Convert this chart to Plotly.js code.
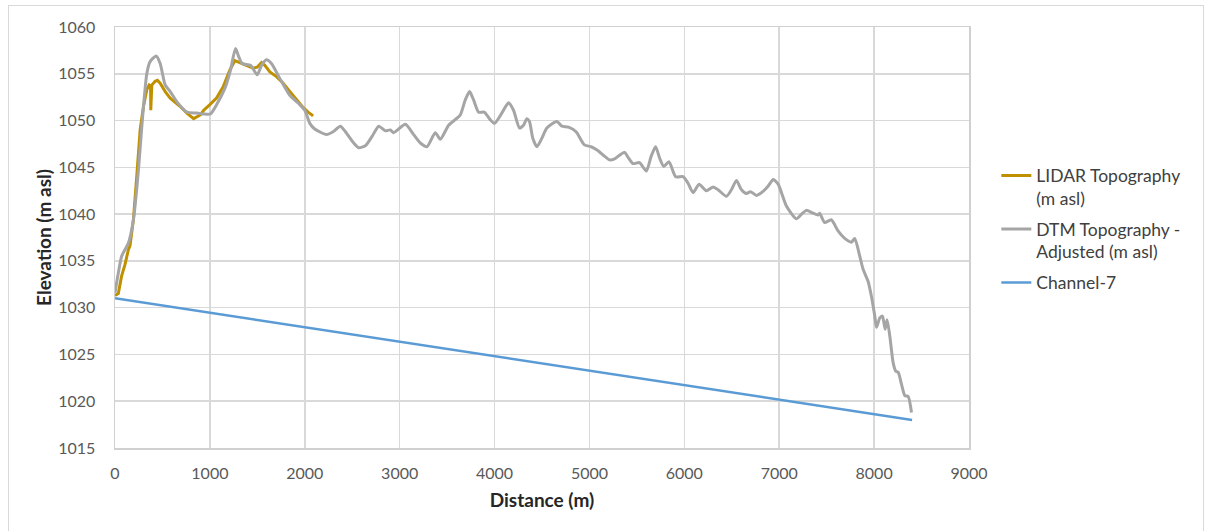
<!DOCTYPE html>
<html>
<head>
<meta charset="utf-8">
<script src="https://cdn.plot.ly/plotly-3.0.1.min.js"></script>
<style>
  html, body { margin: 0; padding: 0; background: #ffffff; }
  #frame { position: absolute; left: 8px; top: 5px; width: 1196px; height: 540px; border: 1px solid #d9d9d9; box-sizing: border-box; }
  #chart { position: absolute; left: 0; top: 0; width: 1205px; height: 531px; }
</style>
</head>
<body>
<div id="frame"></div>
<div id="chart"></div>
<script>
// ---- Data ----
const lidarDistance = [0, 35, 70, 105, 141, 158, 176, 194, 229, 265, 300, 335, 360, 375, 377, 380, 388, 423, 447, 476, 529, 582, 635, 688, 758, 829, 899, 935, 1000, 1070, 1140, 1210, 1263, 1316, 1386, 1456, 1498, 1544, 1579, 1632, 1702, 1772, 1842, 1912, 1982, 2035, 2088];
const lidarElevation = [1031.3, 1031.5, 1033.4, 1034.6, 1036.2, 1036.6, 1038.0, 1039.4, 1044.0, 1049.0, 1051.5, 1053.3, 1053.8, 1053.7, 1051.1, 1053.6, 1053.8, 1054.2, 1054.3, 1054.0, 1053.1, 1052.4, 1052.0, 1051.5, 1050.8, 1050.2, 1050.6, 1051.1, 1051.7, 1052.4, 1053.6, 1055.4, 1056.4, 1056.2, 1055.9, 1055.6, 1055.7, 1056.2, 1055.9, 1055.2, 1054.7, 1054.0, 1053.1, 1052.2, 1051.4, 1050.9, 1050.5];

const dtmDistance = [0, 35, 70, 141, 194, 247, 282, 335, 370, 434, 476, 529, 582, 653, 758, 864, 935, 1005, 1076, 1164, 1217, 1270, 1305, 1340, 1428, 1499, 1544, 1596, 1649, 1737, 1842, 1947, 2000, 2053, 2105, 2228, 2298, 2375, 2428, 2516, 2568, 2639, 2709, 2779, 2849, 2902, 2937, 3060, 3147, 3218, 3288, 3375, 3428, 3516, 3586, 3639, 3691, 3737, 3779, 3832, 3891, 3954, 4000, 4077, 4147, 4200, 4263, 4305, 4340, 4368, 4403, 4446, 4498, 4551, 4656, 4709, 4779, 4859, 4947, 5018, 5088, 5158, 5211, 5264, 5317, 5370, 5405, 5458, 5528, 5599, 5651, 5697, 5739, 5782, 5838, 5908, 5986, 6039, 6092, 6155, 6232, 6303, 6356, 6444, 6496, 6549, 6602, 6655, 6697, 6761, 6838, 6884, 6937, 6989, 7074, 7180, 7236, 7285, 7356, 7408, 7426, 7479, 7549, 7620, 7690, 7761, 7796, 7849, 7884, 7937, 7972, 8007, 8025, 8060, 8088, 8116, 8137, 8165, 8201, 8229, 8254, 8289, 8324, 8359, 8394];
const dtmElevation = [1031.6, 1033.7, 1035.5, 1036.9, 1039.4, 1044.7, 1049.3, 1055.0, 1056.3, 1056.9, 1056.1, 1053.8, 1053.1, 1052.0, 1050.9, 1050.8, 1050.7, 1050.7, 1051.8, 1053.6, 1055.4, 1057.7, 1056.8, 1056.1, 1055.9, 1054.9, 1055.9, 1056.5, 1056.1, 1054.5, 1052.7, 1051.7, 1051.1, 1049.7, 1049.1, 1048.5, 1048.8, 1049.4, 1048.8, 1047.6, 1047.1, 1047.3, 1048.3, 1049.4, 1048.9, 1049.0, 1048.7, 1049.6, 1048.5, 1047.6, 1047.2, 1048.7, 1048.0, 1049.5, 1050.1, 1050.6, 1052.2, 1053.1, 1052.2, 1050.9, 1050.9, 1050.1, 1049.7, 1050.8, 1051.9, 1051.1, 1049.2, 1049.5, 1050.2, 1049.9, 1048.1, 1047.2, 1048.1, 1049.2, 1049.9, 1049.4, 1049.3, 1048.8, 1047.4, 1047.2, 1046.8, 1046.2, 1045.8, 1045.9, 1046.3, 1046.6, 1046.1, 1045.4, 1045.5, 1044.6, 1046.2, 1047.2, 1046.0, 1045.1, 1045.6, 1044.0, 1044.0, 1043.3, 1042.3, 1043.2, 1042.5, 1042.9, 1042.6, 1041.9, 1042.6, 1043.6, 1042.6, 1042.2, 1042.4, 1042.0, 1042.5, 1043.0, 1043.7, 1043.2, 1040.9, 1039.5, 1040.0, 1040.4, 1040.1, 1039.9, 1040.1, 1039.1, 1039.4, 1038.2, 1037.4, 1037.0, 1037.4, 1035.5, 1034.1, 1032.8, 1031.2, 1029.1, 1027.9, 1028.9, 1029.1, 1027.7, 1028.7, 1027.0, 1024.1, 1023.2, 1023.1, 1021.8, 1020.6, 1020.5, 1018.8];

const channelDistance = [0, 8400];
const channelElevation = [1031.0, 1018.0];

const seriesNames = ["LIDAR Topography<br>(m asl)", "DTM Topography -<br>Adjusted (m asl)", "Channel-7"];
const xTickValues = [0, 1000, 2000, 3000, 4000, 5000, 6000, 7000, 8000, 9000];
const yTickValues = [1015, 1020, 1025, 1030, 1035, 1040, 1045, 1050, 1055, 1060];

// ---- Chart ----
const FONT = "Lato, 'Open Sans', 'Liberation Sans', sans-serif";
const traces = [
  { x: lidarDistance, y: lidarElevation, name: seriesNames[0], type: "scatter", mode: "lines",
    line: { color: "#BF9000", width: 3 }, legendgroup: "a" },
  { x: dtmDistance, y: dtmElevation, name: seriesNames[1], type: "scatter", mode: "lines",
    line: { color: "#A5A5A5", width: 3, shape: "spline", smoothing: 0.6 }, legendgroup: "b" },
  { x: channelDistance, y: channelElevation, name: seriesNames[2], type: "scatter", mode: "lines",
    line: { color: "#5B9BD5", width: 2.5 }, legendgroup: "c" }
];

const layout = {
  width: 1205, height: 531,
  margin: { l: 115, r: 236, t: 27, b: 83 },
  paper_bgcolor: "rgba(0,0,0,0)",
  plot_bgcolor: "#ffffff",
  font: { family: FONT, size: 16, color: "#595959" },
  xaxis: {
    range: [0, 9000], tickvals: xTickValues, ticktext: xTickValues.map(String),
    showgrid: true, gridcolor: "#D9D9D9", gridwidth: 1.5,
    showline: true, linecolor: "#D0D0D0", linewidth: 1.5, mirror: true,
    zeroline: false, ticks: "", ticklabelstandoff: 10,
    tickfont: { family: FONT, size: 16, color: "#595959" },
    title: { text: "Distance (m)", font: { family: FONT, size: 19, color: "#262626", weight: "bold" }, standoff: 13 }
  },
  yaxis: {
    range: [1015, 1060], tickvals: yTickValues, ticktext: yTickValues.map(String),
    showgrid: true, gridcolor: "#D9D9D9", gridwidth: 1.5,
    showline: true, linecolor: "#D0D0D0", linewidth: 1.5, mirror: true,
    zeroline: false, ticks: "", ticklabelstandoff: 15,
    tickfont: { family: FONT, size: 16, color: "#595959" },
    title: { text: "Elevation (m asl)", font: { family: FONT, size: 19, color: "#262626", weight: "bold" }, standoff: 1 }
  },
  legend: {
    x: 1.032, xanchor: "left", y: 0.69, yanchor: "top",
    valign: "top", traceorder: "grouped", tracegroupgap: 5,
    font: { family: FONT, size: 17.5, color: "#404040" },
    bgcolor: "rgba(0,0,0,0)"
  },
  showlegend: true
};

Plotly.newPlot("chart", traces, layout, { displayModeBar: false, staticPlot: true });
</script>
</body>
</html>
